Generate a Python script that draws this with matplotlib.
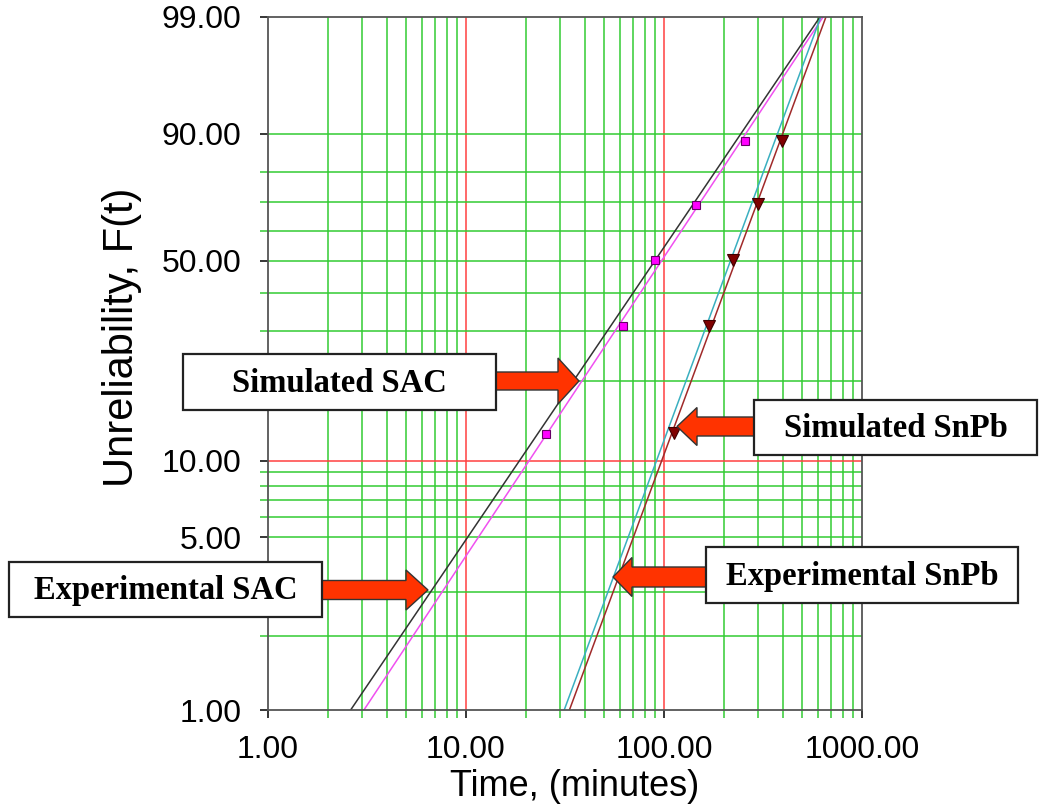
import numpy as np
import matplotlib
matplotlib.use('Agg')
import matplotlib.pyplot as plt
from matplotlib.patches import Rectangle, FancyArrow
from matplotlib.ticker import NullFormatter, FixedLocator

# ---------------- data ----------------
sim_sac_t = [25.3, 61.9, 90.1, 144.5, 256.6]          # simulated SAC points (min)
sim_sac_F = [12.7, 31.4, 50.4, 69.2, 88.3]            # unreliability (%)
sim_snpb_t = [112.7, 168.7, 223.9, 299.5, 393.0]      # simulated SnPb points (min)
sim_snpb_F = [12.8, 31.2, 50.2, 69.4, 88.4]           # unreliability (%)

# Weibull fits (beta, eta)
exp_sac_fit = (1.197, 122.0)
sim_sac_fit = (1.2235, 131.0)
exp_snpb_fit = (2.19, 256.0)
sim_snpb_fit = (2.19, 272.0)

x_ticks = [1, 10, 100, 1000]
x_tick_labels = ['1.00', '10.00', '100.00', '1000.00']
x_grid = [2, 3, 4, 5, 6, 7, 8, 9, 20, 30, 40, 50, 60, 70, 80, 90,
          200, 300, 400, 500, 600, 700, 800, 900]
x_red = [10, 100]

y_ticks = [1, 5, 10, 50, 90, 99.9]
y_tick_labels = ['1.00', '5.00', '10.00', '50.00', '90.00', '99.00']
y_grid = [2, 3, 5, 6, 7, 8, 9, 20, 30, 40, 50, 60, 70, 80, 90]
y_red = [10]

labels = ['Simulated SAC', 'Experimental SAC', 'Simulated SnPb', 'Experimental SnPb']

# ---------------- scale ----------------
def fwd(F):
    F = np.clip(np.asarray(F, dtype=float), 1e-6, 100 - 1e-9)
    return np.log(-np.log(1 - F / 100.0))

def inv(w):
    return 100.0 * (1 - np.exp(-np.exp(np.asarray(w, dtype=float))))

def weib(t, fit):
    b, e = fit
    return 100.0 * (1 - np.exp(-(t / e) ** b))

W, H = 1060, 807
fig = plt.figure(figsize=(W / 100, H / 100), dpi=100)
L, R, T, B = 268, 862, 17, 710
ax = fig.add_axes([L / W, 1 - B / H, (R - L) / W, (B - T) / H])
ax.set_xscale('log')
ax.set_yscale('function', functions=(fwd, inv))
ax.set_xlim(1, 1000)
ax.set_ylim(1, 99.9)

green = '#33CC33'
red = '#FF4040'
for xv in x_grid:
    ax.axvline(xv, color=green, lw=1.1, zorder=1)
for xv in x_red:
    ax.axvline(xv, color=red, lw=1.1, zorder=1)
for yv in y_grid:
    ax.axhline(yv, color=green, lw=1.1, zorder=1)
for yv in y_red:
    ax.axhline(yv, color=red, lw=1.1, zorder=1)

t = np.logspace(0, 3.1, 600)
ax.plot(t, weib(t, exp_sac_fit), color='#333333', lw=1.1, zorder=3)
ax.plot(t, weib(t, sim_sac_fit), color='#F050F0', lw=1.1, zorder=3)
ax.plot(t, weib(t, exp_snpb_fit), color='#3AAFC0', lw=1.1, zorder=3)
ax.plot(t, weib(t, sim_snpb_fit), color='#A02A2A', lw=1.1, zorder=3)

ax.plot(sim_sac_t, sim_sac_F, ls='none', marker='s', ms=6, mfc='#FF00FF',
        mec='#660066', mew=0.8, zorder=4)
ax.plot(sim_snpb_t, sim_snpb_F, ls='none', marker='v', ms=9, mfc='#800000',
        mec='#400000', mew=0.8, zorder=4)

# ticks
ax.set_xticks(x_ticks)
ax.set_xticklabels(x_tick_labels)
ax.xaxis.set_minor_locator(FixedLocator(x_grid))
ax.xaxis.set_minor_formatter(NullFormatter())
ax.set_yticks(y_ticks)
ax.set_yticklabels(y_tick_labels)
ax.yaxis.set_minor_locator(FixedLocator([v for v in y_grid if v not in y_ticks]))
ax.yaxis.set_minor_formatter(NullFormatter())

ax.tick_params(axis='both', which='both', direction='out', length=6, width=1.1)
ax.tick_params(axis='x', which='major', labelsize=23, pad=12)
ax.tick_params(axis='y', which='major', labelsize=23, pad=13)
ax.tick_params(axis='both', which='minor', color=green)
for tk, v in zip(ax.xaxis.get_major_ticks(), x_ticks):
    tk.tick1line.set_color(red if v in x_red else '#555555')
for tk, v in zip(ax.yaxis.get_major_ticks(), y_ticks):
    if v in y_red:
        tk.tick1line.set_color(red)
    elif v in y_grid:
        tk.tick1line.set_color(green)
    else:
        tk.tick1line.set_color('#555555')

for sp in ax.spines.values():
    sp.set_color('#555555')
    sp.set_linewidth(1.3)
    sp.set_zorder(5)

for lab in ax.get_xticklabels() + ax.get_yticklabels():
    lab.set_fontfamily('Liberation Sans')

ax.set_xlabel('Time, (minutes)', fontsize=26, fontfamily='Liberation Sans')
ax.set_ylabel('Unreliability, F(t)', fontsize=30, fontfamily='Liberation Sans')
ax.xaxis.set_label_coords((575 - L) / (R - L), -(786 - B) / (B - T), transform=ax.transAxes)
ax.yaxis.set_label_coords((122 - L) / (R - L), (B - 337) / (B - T), transform=ax.transAxes)
ax.xaxis.label.set_va('center')
ax.yaxis.label.set_va('center')

# ---------------- callouts (pixel layout) ----------------
tr = fig.dpi_scale_trans

def P(x, y):
    return x / 100.0, (H - y) / 100.0

def box(x0, x1, y0, y1, text):
    (bx, by) = P(x0, y1)
    fig.add_artist(Rectangle((bx, by), (x1 - x0) / 100, (y1 - y0) / 100,
                             transform=tr, fc='white', ec='#222222', lw=1.6, zorder=10))
    cx, cy = P((x0 + x1) / 2, (y0 + y1) / 2 + 1)
    fig.text(cx, cy, text, transform=tr, ha='center', va='center',
             fontfamily='Liberation Serif', fontweight='bold', fontsize=23.5, zorder=11)

def arrow(x0, x1, y, shaft, head_w, head_l):
    sx, sy = P(x0, y)
    ex, _ = P(x1, y)
    fig.add_artist(FancyArrow(sx, sy, ex - sx, 0, width=shaft / 100,
                              head_width=head_w / 100, head_length=head_l / 100,
                              length_includes_head=True, transform=tr,
                              fc='#FF3300', ec='#333333', lw=1.0, zorder=9))

arrow(494, 579, 381, 18, 46, 21)
box(183, 496, 354, 410, labels[0])

arrow(320, 428, 590, 19, 40, 22)
box(9, 322, 562, 617, labels[1])

arrow(756, 677, 426.5, 19, 38, 20)
box(754, 1037, 400, 455, labels[2])

arrow(708, 613, 577, 20, 39, 19)
box(706, 1018, 547, 603, labels[3])

fig.savefig('out.png', dpi=100)
